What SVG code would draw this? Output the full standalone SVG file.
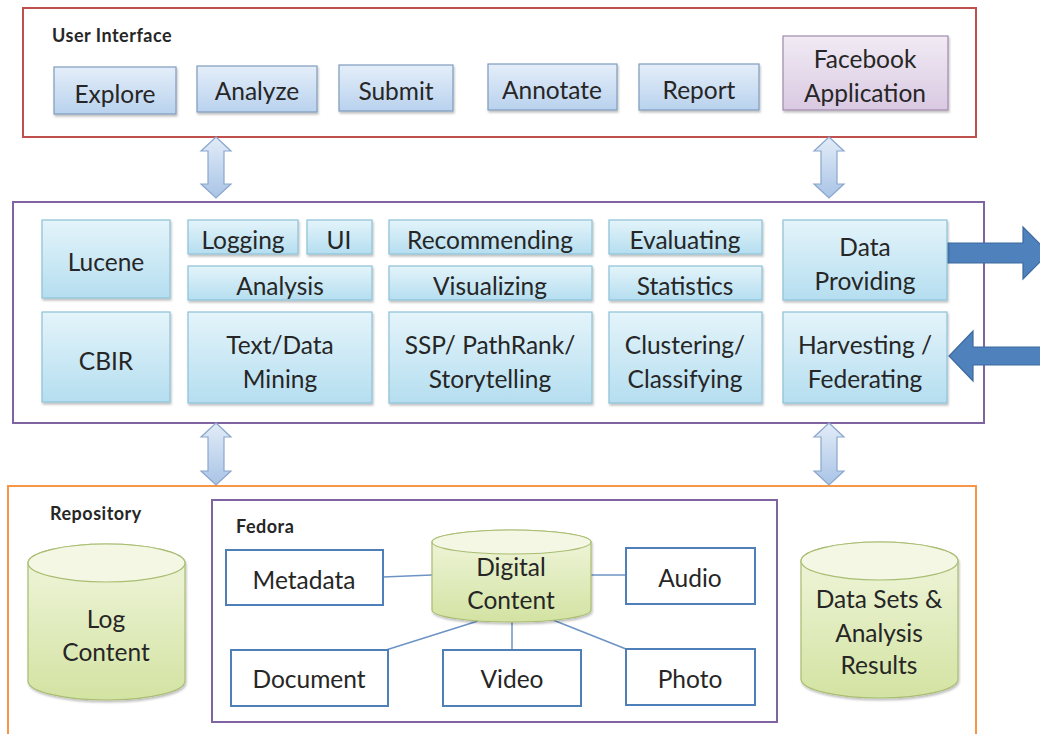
<svg xmlns="http://www.w3.org/2000/svg" width="1040" height="734" viewBox="0 0 1040 734">
  <defs>
    <linearGradient id="gBlue" x1="0" y1="0" x2="0" y2="1">
      <stop offset="0" stop-color="#e4eef9"/>
      <stop offset="1" stop-color="#b9d2ee"/>
    </linearGradient>
    <linearGradient id="gPurple" x1="0" y1="0" x2="0" y2="1">
      <stop offset="0" stop-color="#f1ebf4"/>
      <stop offset="1" stop-color="#d9c9e2"/>
    </linearGradient>
    <linearGradient id="gCyan" x1="0" y1="0" x2="0" y2="1">
      <stop offset="0" stop-color="#e4f4fa"/>
      <stop offset="1" stop-color="#b5def0"/>
    </linearGradient>
    <linearGradient id="gGreen" x1="0" y1="0" x2="0" y2="1">
      <stop offset="0" stop-color="#f1f6de"/>
      <stop offset="1" stop-color="#d3e3a2"/>
    </linearGradient>
    <linearGradient id="gArrow" x1="0" y1="0" x2="0" y2="1">
      <stop offset="0" stop-color="#e2ecf8"/>
      <stop offset="1" stop-color="#a9c4e6"/>
    </linearGradient>
    <filter id="shadow" x="-10%" y="-10%" width="125%" height="135%">
      <feDropShadow dx="1" dy="2" stdDeviation="1.2" flood-color="#000" flood-opacity="0.25"/>
    </filter>
  </defs>
  <style>
    text { font-family: Lato, "Open Sans", "Liberation Sans", sans-serif; fill: #262626; }
    .t { font-size: 24.5px; text-anchor: middle; }
    .h { font-size: 18px; font-weight: bold; letter-spacing: 0.5px; }
    .btn { fill: url(#gBlue); stroke: #7f9cbd; stroke-width: 1.2; filter: url(#shadow); }
    .fb { fill: url(#gPurple); stroke: #a08aab; stroke-width: 1.2; filter: url(#shadow); }
    .mod { fill: url(#gCyan); stroke: #8dc1d8; stroke-width: 1.2; filter: url(#shadow); }
    .cyl { fill: url(#gGreen); stroke: #a9bd72; stroke-width: 1.2; filter: url(#shadow); }
    .cyltop { fill: #f3f7e4; stroke: #a9bd72; stroke-width: 1.2; }
    .obj { fill: #ffffff; stroke: #4f7fb8; stroke-width: 2; }
    .link { stroke: #6d93c4; stroke-width: 1.5; fill: none; }
    .dbl { fill: url(#gArrow); stroke: #8aa6cc; stroke-width: 1.2; }
    .big { fill: #4f81bd; stroke: #3d6a9f; stroke-width: 1.2; }
  </style>

  <!-- layer containers -->
  <g id="layer-ui">
    <rect x="23" y="8" width="953" height="129" fill="#ffffff" stroke="#c0504d" stroke-width="2"/>
    <text class="h" x="52" y="42">User Interface</text>
  </g>
  <g id="layer-services">
    <rect x="13" y="202" width="971" height="221" fill="#ffffff" stroke="#8064a2" stroke-width="2"/>
  </g>
  <g id="layer-repository">
    <rect x="8" y="486" width="968" height="260" fill="#ffffff" stroke="#f79646" stroke-width="2"/>
    <text class="h" x="50" y="520">Repository</text>
  </g>
  <g id="fedora">
    <rect x="212" y="500" width="565" height="222" fill="#ffffff" stroke="#8064a2" stroke-width="2"/>
    <text class="h" x="236" y="533">Fedora</text>
  </g>

  <!-- connectors -->
  <g id="connectors">
    <path class="dbl" d="M216,137 L231,151 L224,151 L224,184 L231,184 L216,198 L201,184 L208,184 L208,151 L201,151 Z"/>
    <path class="dbl" d="M829,137 L844,151 L837,151 L837,184 L844,184 L829,198 L814,184 L821,184 L821,151 L814,151 Z"/>
    <path class="dbl" d="M216,423 L231,437 L224,437 L224,471 L231,471 L216,485 L201,471 L208,471 L208,437 L201,437 Z"/>
    <path class="dbl" d="M829,423 L844,437 L837,437 L837,471 L844,471 L829,485 L814,471 L821,471 L821,437 L814,437 Z"/>
    <path class="big" d="M947,243 L1023,243 L1023,227 L1049,253 L1023,279 L1023,263 L947,263 Z"/>
    <path class="big" d="M1045,347 L973,347 L973,331 L949,356 L973,381 L973,365 L1045,365 Z"/>
    <line class="link" x1="383" y1="577" x2="432" y2="575"/>
    <line class="link" x1="591" y1="575" x2="626" y2="575"/>
    <line class="link" x1="512" y1="622" x2="512" y2="650"/>
    <line class="link" x1="478" y1="621" x2="386" y2="650"/>
    <line class="link" x1="553" y1="620" x2="626" y2="649"/>
  </g>

  <!-- user interface -->
  <g id="explore"><rect class="btn" x="54" y="67" width="122" height="47"/><text class="t" x="115" y="103">Explore</text></g>
  <g id="analyze"><rect class="btn" x="197" y="66" width="120" height="46"/><text class="t" x="257" y="100">Analyze</text></g>
  <g id="submit"><rect class="btn" x="339" y="65" width="114" height="46"/><text class="t" x="396" y="100">Submit</text></g>
  <g id="annotate"><rect class="btn" x="488" y="64" width="129" height="46"/><text class="t" x="552" y="99">Annotate</text></g>
  <g id="report"><rect class="btn" x="639" y="64" width="120" height="46"/><text class="t" x="699" y="99">Report</text></g>
  <g id="facebook"><rect class="fb" x="783" y="36" width="165" height="74"/><text class="t" x="865" y="68">Facebook</text><text class="t" x="865" y="102">Application</text></g>

  <!-- services -->
  <g id="lucene"><rect class="mod" x="42" y="220" width="128" height="78"/><text class="t" x="106" y="271">Lucene</text></g>
  <g id="logging"><rect class="mod" x="188" y="220" width="110" height="34"/><text class="t" x="243" y="249">Logging</text></g>
  <g id="ui"><rect class="mod" x="307" y="220" width="65" height="34"/><text class="t" x="339" y="249">UI</text></g>
  <g id="analysis"><rect class="mod" x="188" y="266" width="184" height="34"/><text class="t" x="280" y="295">Analysis</text></g>
  <g id="recommending"><rect class="mod" x="389" y="220" width="203" height="34"/><text class="t" x="490" y="249">Recommending</text></g>
  <g id="visualizing"><rect class="mod" x="389" y="266" width="203" height="34"/><text class="t" x="490" y="295">Visualizing</text></g>
  <g id="evaluating"><rect class="mod" x="609" y="220" width="153" height="34"/><text class="t" x="685" y="249">Evaluating</text></g>
  <g id="statistics"><rect class="mod" x="609" y="266" width="153" height="34"/><text class="t" x="685" y="295">Statistics</text></g>
  <g id="data-providing"><rect class="mod" x="783" y="220" width="164" height="80"/><text class="t" x="865" y="256">Data</text><text class="t" x="865" y="290">Providing</text></g>
  <g id="cbir"><rect class="mod" x="42" y="312" width="128" height="90"/><text class="t" x="106" y="370">CBIR</text></g>
  <g id="text-mining"><rect class="mod" x="188" y="312" width="184" height="91"/><text class="t" x="280" y="354">Text/Data</text><text class="t" x="280" y="388">Mining</text></g>
  <g id="ssp"><rect class="mod" x="389" y="312" width="203" height="91"/><text class="t" x="490" y="354">SSP/ PathRank/</text><text class="t" x="490" y="388">Storytelling</text></g>
  <g id="clustering"><rect class="mod" x="609" y="312" width="153" height="91"/><text class="t" x="685" y="354">Clustering/</text><text class="t" x="685" y="388">Classifying</text></g>
  <g id="harvesting"><rect class="mod" x="783" y="312" width="164" height="91"/><text class="t" x="865" y="354">Harvesting /</text><text class="t" x="865" y="388">Federating</text></g>

  <!-- repository -->
  <g id="log-content">
    <path class="cyl" d="M28,563 A78.5,19 0 0 1 185,563 L185,681 A78.5,19 0 0 1 28,681 Z"/>
    <ellipse class="cyltop" cx="106.5" cy="563" rx="78.5" ry="19"/>
    <text class="t" x="106" y="628">Log</text><text class="t" x="106" y="661">Content</text>
  </g>
  <g id="digital-content">
    <path class="cyl" d="M432,542 A79.5,12 0 0 1 591,542 L591,610 A79.5,12 0 0 1 432,610 Z"/>
    <ellipse class="cyltop" cx="511.5" cy="542" rx="79.5" ry="12"/>
    <text class="t" x="511" y="576">Digital</text><text class="t" x="511" y="609">Content</text>
  </g>
  <g id="data-sets">
    <path class="cyl" d="M801,561 A78.5,19 0 0 1 958,561 L958,679 A78.5,19 0 0 1 801,679 Z"/>
    <ellipse class="cyltop" cx="879.5" cy="561" rx="78.5" ry="19"/>
    <text class="t" x="879" y="608">Data Sets &amp;</text><text class="t" x="879" y="642">Analysis</text><text class="t" x="879" y="674">Results</text>
  </g>
  <g id="metadata"><rect class="obj" x="226" y="550" width="157" height="55"/><text class="t" x="304" y="589">Metadata</text></g>
  <g id="audio"><rect class="obj" x="626" y="548" width="129" height="56"/><text class="t" x="690" y="587">Audio</text></g>
  <g id="document"><rect class="obj" x="231" y="650" width="157" height="56"/><text class="t" x="309" y="688">Document</text></g>
  <g id="video"><rect class="obj" x="443" y="650" width="138" height="56"/><text class="t" x="512" y="688">Video</text></g>
  <g id="photo"><rect class="obj" x="626" y="649" width="129" height="56"/><text class="t" x="690" y="688">Photo</text></g>
</svg>
